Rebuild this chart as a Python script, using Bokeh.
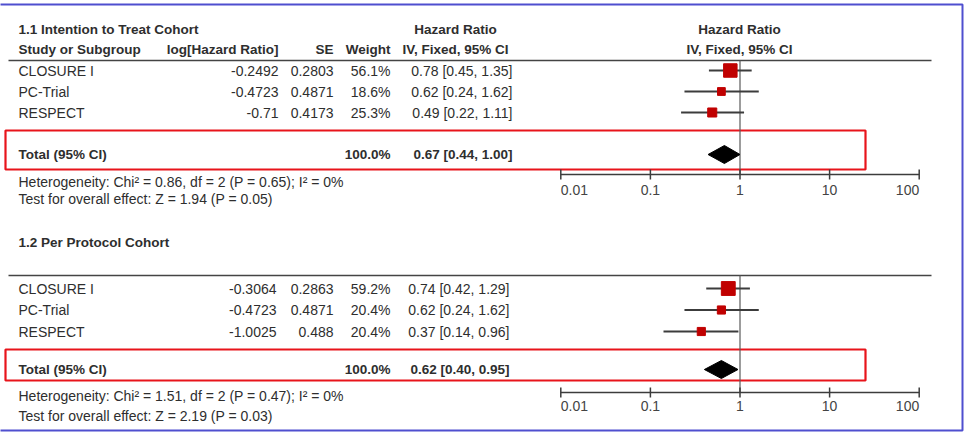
import math
from bokeh.plotting import figure
from bokeh.models import Range1d, LogScale
from bokeh.core.properties import value
from bokeh.embed import file_html
from bokeh.resources import INLINE

# ---------------- data ----------------
study_names = ["CLOSURE I", "PC-Trial", "RESPECT"]

itt_title = "1.1 Intention to Treat Cohort"
itt_log_hr = ["-0.2492", "-0.4723", "-0.71"]
itt_se = ["0.2803", "0.4871", "0.4173"]
itt_weight = [56.1, 18.6, 25.3]
itt_hr = [0.78, 0.62, 0.49]
itt_ci_low = [0.45, 0.24, 0.22]
itt_ci_high = [1.35, 1.62, 1.11]
itt_total = [0.67, 0.44, 1.00]
itt_het = "Heterogeneity: Chi\u00b2 = 0.86, df = 2 (P = 0.65); I\u00b2 = 0%"
itt_test = "Test for overall effect: Z = 1.94 (P = 0.05)"

pp_title = "1.2 Per Protocol Cohort"
pp_log_hr = ["-0.3064", "-0.4723", "-1.0025"]
pp_se = ["0.2863", "0.4871", "0.488"]
pp_weight = [59.2, 20.4, 20.4]
pp_hr = [0.74, 0.62, 0.37]
pp_ci_low = [0.42, 0.24, 0.14]
pp_ci_high = [1.29, 1.62, 0.96]
pp_total = [0.62, 0.40, 0.95]
pp_het = "Heterogeneity: Chi\u00b2 = 1.51, df = 2 (P = 0.47); I\u00b2 = 0%"
pp_test = "Test for overall effect: Z = 2.19 (P = 0.03)"

axis_ticks = [0.01, 0.1, 1, 10, 100]
axis_tick_labels = ["0.01", "0.1", "1", "10", "100"]

# ---------------- canvas ----------------
W, H = 965, 438
FONT = value("Liberation Sans")
TXT = "#2e2e2e"
BOLD_SIZE = "13.5px"

p = figure(width=W, height=H, output_backend="svg", toolbar_location=None,
           x_range=Range1d(0, W), y_range=Range1d(H, 0),
           x_axis_location=None, y_axis_location=None,
           min_border=0, outline_line_color=None,
           background_fill_color="white", border_fill_color="white")
p.xgrid.visible = False
p.ygrid.visible = False

# log-scaled hazard-ratio range for the forest panel
DECADE = 89.6
X_ONE = 739.5
p.extra_x_ranges = {"hr": Range1d(10 ** (-X_ONE / DECADE), 10 ** ((W - X_ONE) / DECADE))}
p.extra_x_scales = {"hr": LogScale()}


def txt(x, y, s, size="14px", bold=False, align="left", color=TXT):
    p.text(x=[x], y=[y], text=[s], text_font=FONT, text_font_size=size,
           text_font_style="bold" if bold else "normal",
           text_align=align, text_baseline="middle", text_color=color)


def ci_text(hr, lo, hi):
    return f"{hr:.2f} [{lo:.2f}, {hi:.2f}]"


def section(title, log_hr, se, weight, hr, lo, hi, total, het, test, lay):
    # table text
    txt(18, lay["title"], title, size=BOLD_SIZE, bold=True)
    if lay.get("header") is not None:
        hy = lay["header"]
        txt(18, hy, "Study or Subgroup", size=BOLD_SIZE, bold=True)
        txt(278, hy, "log[Hazard Ratio]", size=BOLD_SIZE, bold=True, align="right")
        txt(333, hy, "SE", size=BOLD_SIZE, bold=True, align="right")
        txt(390, hy, "Weight", size=BOLD_SIZE, bold=True, align="right")
        txt(455, lay["title"], "Hazard Ratio", size=BOLD_SIZE, bold=True, align="center")
        txt(455, hy, "IV, Fixed, 95% CI", size=BOLD_SIZE, bold=True, align="center")
        txt(739, lay["title"], "Hazard Ratio", size=BOLD_SIZE, bold=True, align="center")
        txt(739, hy, "IV, Fixed, 95% CI", size=BOLD_SIZE, bold=True, align="center")

    # header rule
    p.segment(x0=[8], y0=[lay["rule"]], x1=[931], y1=[lay["rule"]],
              line_color="#444444", line_width=1.6)

    ys = [lay["row0"] + i * lay["step"] for i in range(len(study_names))]
    for i, name in enumerate(study_names):
        y = ys[i]
        txt(18, y, name)
        txt(lay["c_log"], y, log_hr[i], align="right")
        txt(333, y, se[i], align="right")
        txt(390, y, f"{weight[i]:.1f}%", align="right")
        txt(lay["c_ci"], y, ci_text(hr[i], lo[i], hi[i]), align="right")

    # total row
    ty = lay["total"]
    txt(18, ty, "Total (95% CI)", size=BOLD_SIZE, bold=True)
    txt(390, ty, f"{sum(weight):.1f}%", size=BOLD_SIZE, bold=True, align="right")
    txt(lay["c_ci"], ty, ci_text(*total), size=BOLD_SIZE, bold=True, align="right")
    txt(18, lay["het"], het)
    txt(18, lay["test"], test)

    # highlight box around the pooled row
    p.quad(left=[5], right=[865], top=[lay["box"][0]], bottom=[lay["box"][1]],
           fill_alpha=0, line_color="#e8141b", line_width=2.2)

    # line of no effect
    p.segment(x0=[1], y0=[lay["rule"]], x1=[1], y1=[lay["axis"]],
              x_range_name="hr", line_color="#5a5a5a", line_width=1.2)

    # confidence intervals and weighted squares
    p.segment(x0=lo, y0=ys, x1=hi, y1=ys, x_range_name="hr",
              line_color="#3c3c3c", line_width=1.8)
    sizes = [1.8 * math.sqrt(w) for w in weight]
    p.scatter(x=hr, y=ys, size=sizes, marker="square", x_range_name="hr",
              fill_color="#c00000", line_color="#c00000")

    # pooled-estimate diamond
    est, dlo, dhi = total
    half = 9
    p.patch(x=[dlo, est, dhi, est], y=[ty, ty - half, ty, ty + half],
            x_range_name="hr", fill_color="black", line_color="black")

    # hazard-ratio axis
    ay = lay["axis"]
    p.segment(x0=[axis_ticks[0]], y0=[ay], x1=[axis_ticks[-1]], y1=[ay],
              x_range_name="hr", line_color="#3c3c3c", line_width=1.5)
    p.segment(x0=axis_ticks, y0=[ay - 5] * len(axis_ticks),
              x1=axis_ticks, y1=[ay + 5] * len(axis_ticks),
              x_range_name="hr", line_color="#3c3c3c", line_width=1.5)
    aligns = ["left"] + ["center"] * (len(axis_ticks) - 2) + ["right"]
    for t, lab, al in zip(axis_ticks, axis_tick_labels, aligns):
        p.text(x=[t], y=[ay + lay["lab_off"]], text=[lab], x_range_name="hr",
               text_font=FONT, text_font_size="14px", text_align=al,
               text_baseline="middle", text_color="#444444")


section(itt_title, itt_log_hr, itt_se, itt_weight, itt_hr, itt_ci_low, itt_ci_high,
        itt_total, itt_het, itt_test,
        dict(title=29, header=49, rule=60, row0=70, step=21, c_log=278, c_ci=512,
             total=154, box=(130, 169), het=181, test=198, axis=174, lab_off=15))

section(pp_title, pp_log_hr, pp_se, pp_weight, pp_hr, pp_ci_low, pp_ci_high,
        pp_total, pp_het, pp_test,
        dict(title=242, header=None, rule=275, row0=288, step=21.5, c_log=276, c_ci=509,
             total=369, box=(349, 380), het=395, test=415, axis=392, lab_off=13))

# outer frame
p.quad(left=[-5], right=[962], top=[4], bottom=[430], fill_alpha=0,
       line_color="#4f4fcf", line_width=2)

open("out.html", "w").write(file_html(p, INLINE))
